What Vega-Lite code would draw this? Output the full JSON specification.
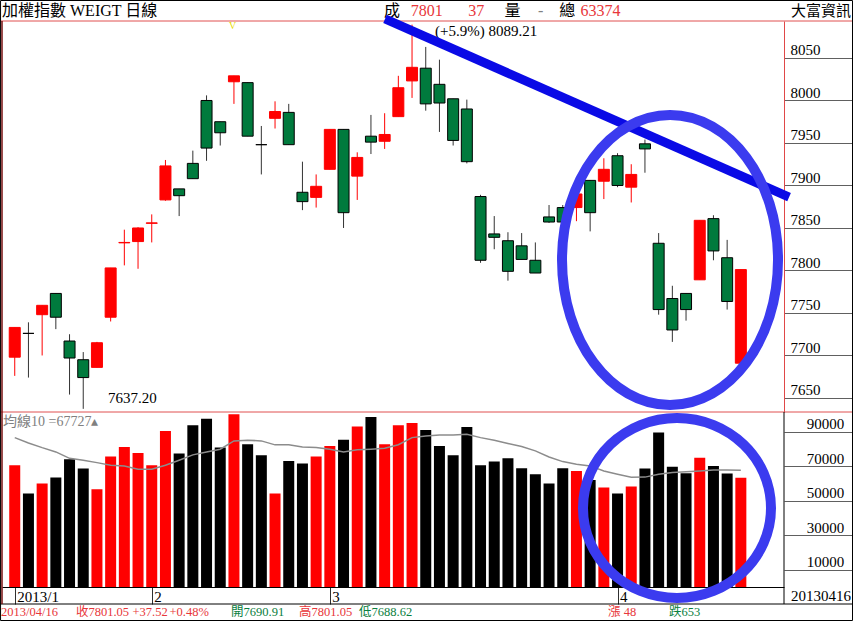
{
  "$schema": "https://vega.github.io/schema/vega-lite/v6.json",
  "width": 782,
  "height": 566,
  "autosize": {"type": "none"},
  "padding": {"left": 2, "top": 21, "right": 69, "bottom": 34},
  "background": "#ffffff",
  "config": {"view": {"stroke": null}, "font": "Liberation Serif, Noto Sans CJK TC"},
  "datasets": {
    "bars": [
      {"i": 0, "d": "2013-01-18", "o": 7698, "h": 7733, "l": 7676, "c": 7733, "v": 70600, "ma": 86600},
      {"i": 1, "d": "2013-01-21", "o": 7726, "h": 7739, "l": 7674, "c": 7726, "v": 54200, "ma": 83500},
      {"i": 2, "d": "2013-01-22", "o": 7748, "h": 7759, "l": 7700, "c": 7759, "v": 60000, "ma": 80800},
      {"i": 3, "d": "2013-01-23", "o": 7773, "h": 7773, "l": 7731, "c": 7745, "v": 63500, "ma": 78300},
      {"i": 4, "d": "2013-01-24", "o": 7717, "h": 7725, "l": 7654, "c": 7697, "v": 74100, "ma": 74600},
      {"i": 5, "d": "2013-01-25", "o": 7695, "h": 7704, "l": 7637.2, "c": 7674, "v": 68700, "ma": 73500},
      {"i": 6, "d": "2013-01-28", "o": 7686, "h": 7716, "l": 7686, "c": 7715, "v": 56700, "ma": 72100},
      {"i": 7, "d": "2013-01-29", "o": 7745, "h": 7803, "l": 7740, "c": 7803, "v": 75600, "ma": 70600},
      {"i": 8, "d": "2013-01-30", "o": 7832.5, "h": 7848, "l": 7806, "c": 7833, "v": 81200, "ma": 70200},
      {"i": 9, "d": "2013-01-31", "o": 7834, "h": 7851, "l": 7802, "c": 7850, "v": 77700, "ma": 68300},
      {"i": 10, "d": "2013-02-01", "o": 7855.5, "h": 7866, "l": 7833, "c": 7856, "v": 70600, "ma": 68300},
      {"i": 11, "d": "2013-02-04", "o": 7883, "h": 7930, "l": 7882, "c": 7923, "v": 90500, "ma": 70600},
      {"i": 12, "d": "2013-02-05", "o": 7896, "h": 7896, "l": 7864, "c": 7888, "v": 77400, "ma": 73500},
      {"i": 13, "d": "2013-02-06", "o": 7926, "h": 7941, "l": 7908, "c": 7908, "v": 93800, "ma": 76600},
      {"i": 14, "d": "2013-02-18", "o": 8000, "h": 8006, "l": 7929, "c": 7944, "v": 97600, "ma": 78300},
      {"i": 15, "d": "2013-02-19", "o": 7975, "h": 7975, "l": 7947, "c": 7962, "v": 80800, "ma": 79900},
      {"i": 16, "d": "2013-02-20", "o": 8022, "h": 8029, "l": 7996, "c": 8029, "v": 100200, "ma": 84700},
      {"i": 17, "d": "2013-02-21", "o": 8021, "h": 8021, "l": 7958, "c": 7958, "v": 82800, "ma": 85100},
      {"i": 18, "d": "2013-02-22", "o": 7948, "h": 7970, "l": 7913, "c": 7948, "v": 76400, "ma": 84700},
      {"i": 19, "d": "2013-02-23", "o": 7979, "h": 7999, "l": 7967, "c": 7987, "v": 54200, "ma": 82400},
      {"i": 20, "d": "2013-02-25", "o": 7986, "h": 7996, "l": 7948, "c": 7948, "v": 73100, "ma": 82400},
      {"i": 21, "d": "2013-02-26", "o": 7892, "h": 7928, "l": 7871, "c": 7881, "v": 71600, "ma": 81200},
      {"i": 22, "d": "2013-02-27", "o": 7886, "h": 7913, "l": 7874, "c": 7899, "v": 75600, "ma": 80800},
      {"i": 23, "d": "2013-03-01", "o": 7919, "h": 7966, "l": 7919, "c": 7966, "v": 81800, "ma": 79900},
      {"i": 24, "d": "2013-03-04", "o": 7966, "h": 7966, "l": 7850, "c": 7868, "v": 85300, "ma": 78300},
      {"i": 25, "d": "2013-03-05", "o": 7911, "h": 7939, "l": 7883, "c": 7933, "v": 93000, "ma": 79500},
      {"i": 26, "d": "2013-03-06", "o": 7958, "h": 7983, "l": 7937, "c": 7951, "v": 98600, "ma": 79900},
      {"i": 27, "d": "2013-03-07", "o": 7952, "h": 7985, "l": 7943, "c": 7960, "v": 82800, "ma": 80400},
      {"i": 28, "d": "2013-03-08", "o": 7981, "h": 8029, "l": 7981, "c": 8015, "v": 93800, "ma": 82500},
      {"i": 29, "d": "2013-03-11", "o": 8023, "h": 8089.21, "l": 8003, "c": 8039, "v": 95100, "ma": 86600},
      {"i": 30, "d": "2013-03-12", "o": 8038, "h": 8063, "l": 7988, "c": 7996, "v": 91000, "ma": 87600},
      {"i": 31, "d": "2013-03-13", "o": 8019, "h": 8048, "l": 7963, "c": 7997, "v": 81800, "ma": 88100},
      {"i": 32, "d": "2013-03-14", "o": 8002, "h": 8002, "l": 7947, "c": 7953, "v": 76400, "ma": 88100},
      {"i": 33, "d": "2013-03-15", "o": 7990, "h": 8001, "l": 7926, "c": 7928, "v": 92800, "ma": 88500},
      {"i": 34, "d": "2013-03-18", "o": 7887, "h": 7889, "l": 7809, "c": 7812, "v": 70600, "ma": 86600},
      {"i": 35, "d": "2013-03-19", "o": 7843, "h": 7864, "l": 7825, "c": 7839, "v": 72700, "ma": 85100},
      {"i": 36, "d": "2013-03-20", "o": 7835, "h": 7845, "l": 7788, "c": 7799, "v": 74600, "ma": 83200},
      {"i": 37, "d": "2013-03-21", "o": 7829, "h": 7844, "l": 7813, "c": 7813, "v": 68800, "ma": 81400},
      {"i": 38, "d": "2013-03-22", "o": 7812, "h": 7833, "l": 7797, "c": 7797, "v": 65400, "ma": 78900},
      {"i": 39, "d": "2013-03-25", "o": 7863, "h": 7877, "l": 7856, "c": 7857, "v": 60000, "ma": 75400},
      {"i": 40, "d": "2013-03-26", "o": 7874, "h": 7877, "l": 7857, "c": 7857, "v": 68800, "ma": 72700},
      {"i": 41, "d": "2013-03-27", "o": 7874, "h": 7895, "l": 7858, "c": 7890, "v": 67300, "ma": 71200},
      {"i": 42, "d": "2013-03-28", "o": 7906, "h": 7906, "l": 7846, "c": 7868, "v": 62000, "ma": 70200},
      {"i": 43, "d": "2013-03-29", "o": 7905, "h": 7932, "l": 7884, "c": 7919, "v": 57700, "ma": 67300},
      {"i": 44, "d": "2013-04-01", "o": 7935, "h": 7938, "l": 7898, "c": 7900, "v": 54200, "ma": 65400},
      {"i": 45, "d": "2013-04-02", "o": 7898, "h": 7925, "l": 7880, "c": 7913, "v": 58200, "ma": 63600},
      {"i": 46, "d": "2013-04-03", "o": 7949, "h": 7954, "l": 7915, "c": 7943, "v": 68700, "ma": 63700},
      {"i": 47, "d": "2013-04-08", "o": 7832, "h": 7844, "l": 7748, "c": 7754, "v": 89500, "ma": 65300},
      {"i": 48, "d": "2013-04-09", "o": 7767, "h": 7782, "l": 7716, "c": 7730, "v": 69700, "ma": 66400},
      {"i": 49, "d": "2013-04-10", "o": 7773, "h": 7773, "l": 7741, "c": 7754, "v": 65900, "ma": 66800},
      {"i": 50, "d": "2013-04-11", "o": 7789, "h": 7859, "l": 7789, "c": 7859, "v": 75000, "ma": 67300},
      {"i": 51, "d": "2013-04-12", "o": 7861, "h": 7865, "l": 7812, "c": 7823, "v": 70200, "ma": 67800},
      {"i": 52, "d": "2013-04-15", "o": 7815, "h": 7836, "l": 7754, "c": 7763.53, "v": 65800, "ma": 67800},
      {"i": 53, "d": "2013-04-16", "o": 7690.91, "h": 7801.05, "l": 7688.62, "c": 7801.05, "v": 63374, "ma": 67727}
    ],
    "notes": [
      {"g": "h", "t": "加權指數 WEIGT 日線", "i": -0.93, "p": 8105.3, "k": "ink"},
      {"g": "h", "t": "成", "i": 26.96, "p": 8105.3, "k": "ink"},
      {"g": "h", "t": "7801", "i": 28.9, "p": 8105.3, "k": "up"},
      {"g": "h", "t": "37", "i": 33.1, "p": 8105.3, "k": "up"},
      {"g": "h", "t": "量", "i": 35.75, "p": 8105.3, "k": "ink"},
      {"g": "h", "t": "-", "i": 38.2, "p": 8105.3, "k": "gray"},
      {"g": "h", "t": "總", "i": 39.75, "p": 8105.3, "k": "ink"},
      {"g": "h", "t": "63374", "i": 41.3, "p": 8105.3, "k": "up"},
      {"g": "hr", "t": "大富資訊", "i": 61.04, "p": 8105.3, "k": "ink"},
      {"g": "n", "t": "(+5.9%) 8089.21", "i": 30.68, "p": 8082, "k": "ink"},
      {"g": "n", "t": "7637.20", "i": 6.81, "p": 7650, "k": "ink"},
      {"g": "m", "t": "均線10 =67727▴", "i": -0.85, "p": 7622.3, "k": "gray"},
      {"g": "y", "t": "V", "i": 15.9, "p": 8088, "k": "yellow"},
      {"g": "nr", "t": "20130416", "i": 61.04, "p": 7417, "k": "ink"},
      {"g": "f", "t": "2013/04/16", "i": -1.0, "p": 7398.2, "k": "up"},
      {"g": "f", "t": "收7801.05", "i": 4.47, "p": 7398.2, "k": "up"},
      {"g": "f", "t": "+37.52", "i": 8.6, "p": 7398.2, "k": "up"},
      {"g": "f", "t": "+0.48%", "i": 11.3, "p": 7398.2, "k": "up"},
      {"g": "f", "t": "開7690.91", "i": 15.79, "p": 7398.2, "k": "down"},
      {"g": "f", "t": "高7801.05", "i": 20.75, "p": 7398.2, "k": "up"},
      {"g": "f", "t": "低7688.62", "i": 25.13, "p": 7398.2, "k": "down"},
      {"g": "f", "t": "漲 48", "i": 43.31, "p": 7398.2, "k": "up"},
      {"g": "f", "t": "跌653", "i": 47.76, "p": 7398.2, "k": "down"}
    ]
  },
  "layer": [
    {
      "layer": [
        {
          "data": {"name": "bars"},
          "mark": {"type": "rule", "strokeWidth": 1},
          "encoding": {
            "x": {"field": "i", "type": "quantitative",
              "scale": {"domain": [-0.93, 56.15], "nice": false, "zero": false, "padding": 0},
              "axis": {"orient": "bottom", "values": [0, 10, 23, 44],
                "labelExpr": "datum.value == 0 ? '2013/1' : datum.value == 10 ? '2' : datum.value == 23 ? '3' : '4'",
                "title": null, "grid": false, "domain": true, "domainColor": "#000000", "tickSize": 17, "tickColor": "#303030",
                "labelAlign": "left", "labelBaseline": "middle", "labelPadding": -8, "labelOffset": 2,
                "labelFontSize": 15, "labelColor": "#000000", "labelOverlap": false, "labelFlush": false}},
            "y": {"field": "l", "type": "quantitative",
              "scale": {"domain": [7633.5, 8093.5], "range": [391, 0], "nice": false, "zero": false},
              "axis": {"orient": "right", "values": [7650, 7700, 7750, 7800, 7850, 7900, 7950, 8000, 8050], "format": "d",
                "title": null, "grid": false, "domain": true, "domainColor": "#e04848", "tickSize": 69, "tickColor": "#606060",
                "labelAlign": "left", "labelBaseline": "alphabetic", "labelPadding": -63, "labelOffset": -3,
                "labelFontSize": 15, "labelColor": "#000000", "labelOverlap": false, "labelFlush": false}},
            "y2": {"field": "h"},
            "color": {"condition": {"test": "datum.c > datum.o", "value": "#ff0000"}, "value": "#333333"}
          }
        },
        {
          "data": {"name": "bars"},
          "mark": {"type": "bar", "size": 11, "strokeWidth": 1},
          "encoding": {
            "x": {"field": "i", "type": "quantitative"},
            "y": {"field": "o", "type": "quantitative"},
            "y2": {"field": "c"},
            "fill": {"condition": [{"test": "datum.c > datum.o", "value": "#ff0000"}, {"test": "datum.c < datum.o", "value": "#007a3d"}], "value": "#000000"},
            "stroke": {"condition": {"test": "datum.c > datum.o", "value": "#ff0000"}, "value": "#000000"}
          }
        },
        {
          "data": {"name": "notes"},
          "transform": [{"filter": "datum.g == 'h'"}],
          "mark": {"type": "text", "align": "left", "baseline": "middle", "fontSize": 16},
          "encoding": {
            "x": {"field": "i", "type": "quantitative"},
            "y": {"field": "p", "type": "quantitative"},
            "text": {"field": "t"},
            "color": {"field": "k", "type": "nominal", "legend": null,
              "scale": {"domain": ["up", "down", "ink", "gray", "yellow"], "range": ["#e8363a", "#0a8040", "#000000", "#808080", "#e8dc00"]}}
          }
        },
        {
          "data": {"name": "notes"},
          "transform": [{"filter": "datum.g == 'hr' || datum.g == 'nr'"}],
          "mark": {"type": "text", "align": "right", "baseline": "middle", "fontSize": 15},
          "encoding": {
            "x": {"field": "i", "type": "quantitative"},
            "y": {"field": "p", "type": "quantitative"},
            "text": {"field": "t"},
            "color": {"field": "k", "type": "nominal", "legend": null}
          }
        },
        {
          "data": {"name": "notes"},
          "transform": [{"filter": "datum.g == 'n'"}],
          "mark": {"type": "text", "align": "left", "baseline": "middle", "fontSize": 15},
          "encoding": {
            "x": {"field": "i", "type": "quantitative"},
            "y": {"field": "p", "type": "quantitative"},
            "text": {"field": "t"},
            "color": {"field": "k", "type": "nominal", "legend": null}
          }
        },
        {
          "data": {"name": "notes"},
          "transform": [{"filter": "datum.g == 'm'"}],
          "mark": {"type": "text", "align": "left", "baseline": "middle", "fontSize": 14},
          "encoding": {
            "x": {"field": "i", "type": "quantitative"},
            "y": {"field": "p", "type": "quantitative"},
            "text": {"field": "t"},
            "color": {"field": "k", "type": "nominal", "legend": null}
          }
        },
        {
          "data": {"name": "notes"},
          "transform": [{"filter": "datum.g == 'y'"}],
          "mark": {"type": "text", "align": "center", "baseline": "middle", "fontSize": 10},
          "encoding": {
            "x": {"field": "i", "type": "quantitative"},
            "y": {"field": "p", "type": "quantitative"},
            "text": {"field": "t"},
            "color": {"field": "k", "type": "nominal", "legend": null}
          }
        },
        {
          "data": {"name": "notes"},
          "transform": [{"filter": "datum.g == 'f'"}],
          "mark": {"type": "text", "align": "left", "baseline": "middle", "fontSize": 12.5},
          "encoding": {
            "x": {"field": "i", "type": "quantitative"},
            "y": {"field": "p", "type": "quantitative"},
            "text": {"field": "t"},
            "color": {"field": "k", "type": "nominal", "legend": null}
          }
        },
        {
          "data": {"values": [{}]},
          "mark": {"type": "rule", "color": "#e05050", "strokeWidth": 1},
          "encoding": {
            "x": {"datum": -1.08},
            "x2": {"datum": 61.2},
            "y": {"datum": 8093.5}
          }
        },
        {
          "data": {"values": [{}]},
          "mark": {"type": "rule", "color": "#e05050", "strokeWidth": 1},
          "encoding": {
            "x": {"datum": -1.08},
            "x2": {"datum": 61.2},
            "y": {"datum": 7633.5}
          }
        },
        {
          "data": {"values": [{}]},
          "mark": {"type": "rule", "color": "#000000", "strokeWidth": 1},
          "encoding": {
            "x": {"datum": -1.08},
            "x2": {"datum": 61.2},
            "y": {"datum": 7407.6}
          }
        },
        {
          "data": {"values": [{}]},
          "mark": {"type": "rule", "color": "#000000", "strokeWidth": 1},
          "encoding": {
            "x": {"datum": 56.15},
            "y": {"datum": 7633.5},
            "y2": {"datum": 7407.6}
          }
        },
        {
          "data": {"values": [{}]},
          "mark": {"type": "rule", "color": "#7a1010", "strokeWidth": 1.5},
          "encoding": {
            "x": {"datum": -0.93},
            "y": {"datum": 8093.5},
            "y2": {"datum": 7407.6}
          }
        },
        {
          "data": {"values": [{}]},
          "mark": {"type": "rect", "fillOpacity": 0, "stroke": "#000000", "strokeWidth": 1},
          "encoding": {
            "x": {"datum": -1.036},
            "x2": {"datum": 61.15},
            "y": {"datum": 8117.6},
            "y2": {"datum": 7388.2}
          }
        },
        {
          "data": {"values": [{}]},
          "mark": {"type": "rule", "color": "#0a0ae6", "strokeWidth": 9, "strokeCap": "butt"},
          "encoding": {
            "x": {"datum": 27.03},
            "x2": {"datum": 56.52},
            "y": {"datum": 8095.9},
            "y2": {"datum": 7886.4}
          }
        },
        {
          "data": {"values": [{}]},
          "mark": {"type": "point", "filled": false, "opacity": 1, "stroke": "#3b3bef", "strokeWidth": 10, "size": 46656,
            "shape": "M1,0C1,0.7415 0.5523,1.3426 0,1.3426C-0.5523,1.3426 -1,0.7415 -1,0C-1,-0.7415 -0.5523,-1.3426 0,-1.3426C0.5523,-1.3426 1,-0.7415 1,0Z"},
          "encoding": {
            "x": {"datum": 47.83},
            "y": {"datum": 7812.3}
          }
        }
      ]
    },
    {
      "layer": [
        {
          "data": {"name": "bars"},
          "mark": {"type": "bar", "size": 11},
          "encoding": {
            "x": {"field": "i", "type": "quantitative"},
            "y": {"field": "v", "type": "quantitative",
              "scale": {"domain": [0, 101450], "range": [566, 391], "nice": false, "zero": false},
              "axis": {"orient": "right", "values": [10000, 30000, 50000, 70000, 90000], "format": "d",
                "title": null, "grid": false, "domain": false, "tickSize": 69, "tickColor": "#606060",
                "labelAlign": "center", "labelBaseline": "alphabetic", "labelPadding": -28, "labelOffset": -3,
                "labelFontSize": 15, "labelColor": "#000000", "labelOverlap": false, "labelFlush": false}},
            "color": {"condition": {"test": "datum.c > datum.o", "value": "#ff0000"}, "value": "#000000"}
          }
        },
        {
          "data": {"name": "bars"},
          "mark": {"type": "line", "color": "#8c8c8c", "strokeWidth": 1.5},
          "encoding": {
            "x": {"field": "i", "type": "quantitative"},
            "y": {"field": "ma", "type": "quantitative"}
          }
        },
        {
          "data": {"values": [{}]},
          "mark": {"type": "point", "filled": false, "opacity": 1, "stroke": "#3b3bef", "strokeWidth": 10, "size": 35344,
            "shape": "M1,0C1,0.5288 0.5523,0.9574 0,0.9574C-0.5523,0.9574 -1,0.5288 -1,0C-1,-0.5288 -0.5523,-0.9574 0,-0.9574C0.5523,-0.9574 1,-0.5288 1,0Z"},
          "encoding": {
            "x": {"datum": 48.34},
            "y": {"datum": 45800}
          }
        }
      ]
    }
  ],
  "resolve": {"scale": {"y": "independent"}}
}
